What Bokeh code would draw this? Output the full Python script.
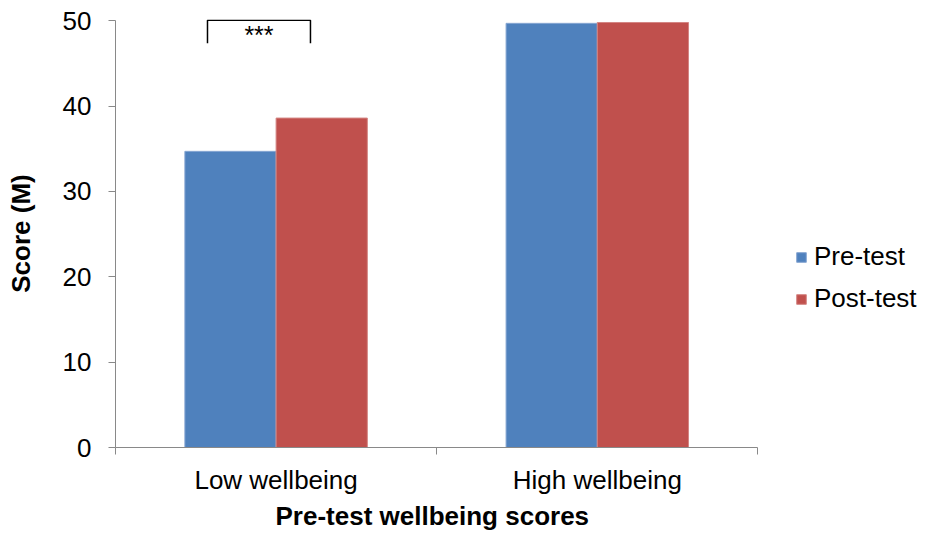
from bokeh.plotting import figure
from bokeh.models import (ColumnDataSource, Range1d, FixedTicker, Legend,
                          LegendItem, Title)
from bokeh.core.properties import value
from bokeh.embed import file_html
from bokeh.resources import INLINE

# ---- data ----
categories = ["Low wellbeing", "High wellbeing"]
pre_test = [34.7, 49.7]
post_test = [38.6, 49.8]
series_names = ["Pre-test", "Post-test"]
y_ticks = [0, 10, 20, 30, 40, 50]
sig_label = "***"
x_title = "Pre-test wellbeing scores"
y_title = "Score (M)"

# ---- styling / layout ----
FONT = "Liberation Sans"
BLUE = "#4F81BD"
RED = "#C0504D"
BLUE_EDGE = "#86A6D2"
RED_EDGE = "#D48583"
AXIS_GREY = "#898989"
W, H = 924, 532
LEFT, TOP, BOTTOM = 115, 19, 82
CAT_PX = 321.2                      # pixels per category slot
bar_w = 0.284
n = len(categories)
centers = [i + 0.5 for i in range(n)]
x_end = (W - LEFT) / CAT_PX

src = ColumnDataSource(dict(
    x_pre=[c - bar_w / 2 for c in centers],
    x_post=[c + bar_w / 2 for c in centers],
    pre=pre_test,
    post=post_test,
))

p = figure(width=W, height=H, output_backend="svg", toolbar_location=None,
           x_range=Range1d(0, x_end), y_range=Range1d(0, 50.15),
           min_border_left=LEFT, min_border_right=0, min_border_top=TOP,
           min_border_bottom=BOTTOM)
p.outline_line_color = None
p.xgrid.grid_line_color = None
p.ygrid.grid_line_color = None

r_pre = p.vbar(x="x_pre", top="pre", width=bar_w, bottom=0, source=src,
               fill_color=BLUE, line_color=BLUE_EDGE, line_width=1)
r_post = p.vbar(x="x_post", top="post", width=bar_w, bottom=0, source=src,
                fill_color=RED, line_color=RED_EDGE, line_width=1)

# significance bracket over low wellbeing
lo, hi = 0.2864, 0.607
p.line(x=[lo, lo, hi, hi], y=[47.36, 50.05, 50.05, 47.36], line_color="black",
       line_width=1.5)
p.text(x=[(lo + hi) / 2], y=[48.3], text=[sig_label], text_align="center",
       text_baseline="middle", text_font=value(FONT), text_font_size="25px",
       text_color="black")

# y axis
ya = p.yaxis[0]
ya.bounds = (0, 50)
ya.ticker = FixedTicker(ticks=y_ticks)
ya.axis_line_color = AXIS_GREY
ya.major_tick_line_color = AXIS_GREY
ya.major_tick_in = 0
ya.major_tick_out = 7
ya.minor_tick_line_color = None
ya.major_label_text_font = FONT
ya.major_label_text_font_size = "26px"
ya.major_label_text_color = "black"
ya.major_label_standoff = 17
ya.axis_label = y_title
ya.axis_label_text_font = FONT
ya.axis_label_text_font_size = "26px"
ya.axis_label_text_font_style = "bold"
ya.axis_label_text_color = "black"
ya.axis_label_standoff = 24

# x axis: labels at category centres, tick marks at category boundaries
xa = p.xaxis[0]
xa.bounds = (0, n)
xa.ticker = FixedTicker(ticks=centers, minor_ticks=list(range(n + 1)))
xa.major_label_overrides = {c: lab for c, lab in zip(centers, categories)}
xa.axis_line_color = AXIS_GREY
xa.major_tick_line_color = None
xa.minor_tick_line_color = AXIS_GREY
xa.minor_tick_in = 0
xa.minor_tick_out = 7
xa.major_tick_out = 7
xa.major_label_text_font = FONT
xa.major_label_text_font_size = "26px"
xa.major_label_text_color = "black"
xa.major_label_standoff = 10

# x axis title, left-aligned with an offset so it is centred under the categories
p.add_layout(Title(text=x_title, align="left", offset=160, standoff=3,
                   text_font=FONT, text_font_size="26px",
                   text_font_style="bold", text_color="black"), "below")

legend = Legend(items=[LegendItem(label=series_names[0], renderers=[r_pre]),
                       LegendItem(label=series_names[1], renderers=[r_post])],
                location=(680, 133), orientation="vertical",
                border_line_color=None, background_fill_alpha=0,
                label_text_font=FONT, label_text_font_size="26px",
                label_text_color="black", glyph_width=12, glyph_height=12,
                label_height=20, spacing=11, padding=5, margin=0,
                label_standoff=7)
p.add_layout(legend, "center")

open("out.html", "w").write(file_html(p, INLINE))
